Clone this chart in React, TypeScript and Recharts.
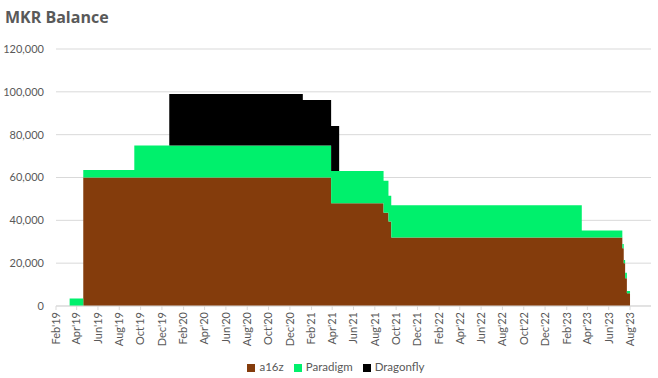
import { AreaChart, Area, XAxis, YAxis, CartesianGrid, Legend } from "recharts";

// change points (balance holds until the next date)
const dates = [
  "2019-03-12", "2019-04-20", "2019-09-13", "2019-12-22", "2021-01-07",
  "2021-03-29", "2021-04-21", "2021-08-26", "2021-09-09", "2021-09-17",
  "2023-03-16", "2023-07-10", "2023-07-14", "2023-07-18", "2023-07-23",
  "2023-08-01",
];
const a16z = [
  0, 60000, 60000, 60000, 60000,
  48000, 48000, 43500, 39500, 32000,
  32000, 27000, 20000, 13000, 6000,
  0,
];
const paradigm = [
  3500, 3500, 15000, 15000, 15000,
  15000, 15000, 15000, 12000, 15000,
  3200, 2000, 1500, 2500, 1000,
  0,
];
const dragonfly = [
  0, 0, 0, 24000, 21200,
  21000, 0, 0, 0, 0,
  0, 0, 0, 0, 0,
  0,
];

const series = ["a16z", "Paradigm", "Dragonfly"];

const tickMonths = [
  "2019-02", "2019-04", "2019-06", "2019-08", "2019-10", "2019-12",
  "2020-02", "2020-04", "2020-06", "2020-08", "2020-10", "2020-12",
  "2021-02", "2021-04", "2021-06", "2021-08", "2021-10", "2021-12",
  "2022-02", "2022-04", "2022-06", "2022-08", "2022-10", "2022-12",
  "2023-02", "2023-04", "2023-06", "2023-08",
];
const yTicks = [0, 20000, 40000, 60000, 80000, 100000, 120000];

const MONTHS = ["Jan", "Feb", "Mar", "Apr", "May", "Jun", "Jul", "Aug", "Sep", "Oct", "Nov", "Dec"];

const toTime = (s: string) => {
  const [y, m, d] = s.split("-").map(Number);
  return Date.UTC(y, m - 1, d ?? 1);
};

const data = dates.map((d, i) => ({
  t: toTime(d),
  a16z: a16z[i],
  Paradigm: paradigm[i],
  Dragonfly: dragonfly[i],
}));

const xTicks = tickMonths.map(toTime);
const xDomain = [toTime("2019-02-01"), toTime("2023-09-30")];

const fmtMonth = (t: number) => {
  const d = new Date(t);
  return `${MONTHS[d.getUTCMonth()]}'${String(d.getUTCFullYear()).slice(2)}`;
};

const GREY = "#595959";

const DateTick = (props: any) => {
  const { x, y, payload } = props;
  return (
    <g transform={`translate(${x},${y})`}>
      <text
        transform="rotate(-90)"
        x={0}
        y={0}
        dy="0.35em"
        textAnchor="end"
        fill={GREY}
        fontSize={11}
      >
        {fmtMonth(payload.value)}
      </text>
    </g>
  );
};

export default function App() {
  return (
    <div
      style={{
        position: "absolute",
        left: 0,
        top: 0,
        width: 658,
        height: 378,
        background: "#fff",
        fontFamily: "Lato, 'Open Sans', sans-serif",
      }}
    >
      <div
        style={{
          position: "absolute",
          left: 5,
          top: 7,
          fontFamily: "'Open Sans', sans-serif",
          fontWeight: 700,
          fontSize: 16,
          color: GREY,
          lineHeight: "20px",
        }}
      >
        MKR Balance
      </div>
      <AreaChart
        width={658}
        height={378}
        data={data}
        margin={{ top: 49, right: 7, left: 0, bottom: 32 }}
      >
        <CartesianGrid vertical={false} stroke="#d9d9d9" />
        <XAxis
          dataKey="t"
          type="number"
          scale="time"
          domain={xDomain}
          ticks={xTicks}
          interval={0}
          height={40}
          tick={<DateTick />}
          tickSize={4}
          tickMargin={2}
          axisLine={{ stroke: "#d9d9d9" }}
          tickLine={{ stroke: "#d9d9d9" }}
        />
        <YAxis
          width={56}
          domain={[0, 120000]}
          ticks={yTicks}
          tickFormatter={(v: number) => v.toLocaleString("en-US")}
          tick={{ fill: GREY, fontSize: 11 }}
          axisLine={false}
          tickLine={false}
          tickSize={6}
          tickMargin={6}
        />
        <Legend
          layout="horizontal"
          verticalAlign="middle"
          align="center"
          iconType="square"
          iconSize={8}
          itemSorter={(item: any) => series.indexOf(item.value)}
          wrapperStyle={{ top: 360, left: 12, width: 658, fontSize: 11.5 }}
          formatter={(value: string) => <span style={{ color: GREY }}>{value}</span>}
        />
        <Area
          type="stepAfter"
          dataKey="a16z"
          stackId="1"
          fill="#843C0C"
          fillOpacity={1}
          stroke="none"
          isAnimationActive={false}
        />
        <Area
          type="stepAfter"
          dataKey="Paradigm"
          stackId="1"
          fill="#00F06C"
          fillOpacity={1}
          stroke="none"
          isAnimationActive={false}
        />
        <Area
          type="stepAfter"
          dataKey="Dragonfly"
          stackId="1"
          fill="#000000"
          fillOpacity={1}
          stroke="none"
          isAnimationActive={false}
        />
      </AreaChart>
    </div>
  );
}
